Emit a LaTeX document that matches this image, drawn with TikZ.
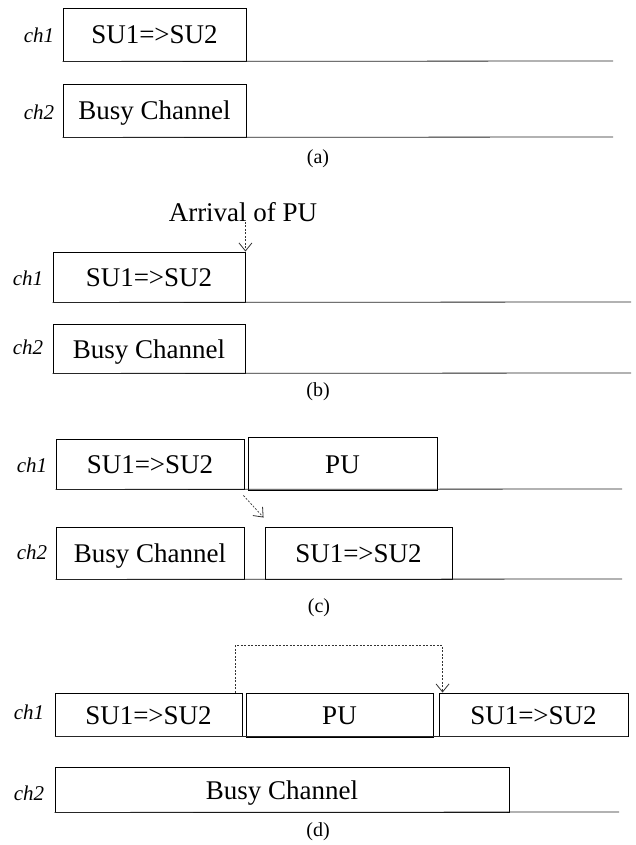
\documentclass[tikz,border=0pt]{standalone}
\usepackage{fontspec}
\setmainfont{Liberation Serif}
\usetikzlibrary{arrows.meta}

\begin{document}
\begin{tikzpicture}[
  x=1pt,
  y=-1pt,
  line cap=butt,
  line join=miter,
  slot/.style={draw=black, line width=0.9, inner sep=0, text height=19pt, text depth=0pt,
    font=\fontsize{27}{30}\selectfont},
  chan/.style={font=\itshape\fontsize{21}{24}\selectfont, inner sep=0},
  caption/.style={font=\fontsize{20}{22}\selectfont, inner sep=0},
  baseline/.style={draw=black!85, line width=0.8},
  dasharrow/.style={draw=black!80, line width=0.7, dash pattern=on 2pt off 1.5pt,
    -{Straight Barb[length=8pt,width=13pt,line width=0.8pt]}},
  every node/.style={inner sep=0}
]
\path[use as bounding box] (0,0) rectangle (635,845);
\fill[white] (0,0) rectangle (635,845);

% (a) initial state
\node[chan] (cha1) at (39,35) {ch1};
\node[chan] (cha2) at (39,112) {ch2};
\node[slot, minimum width=183, minimum height=53] (a1) at (154.5,34.5) {SU1=>SU2};
\node[slot, minimum width=183, minimum height=53] (a2) at (154.5,110.5) {Busy Channel};
\coordinate (ea1) at (613,61);
\coordinate (ea2) at (613,137);
\draw[baseline] (a1.south west) -- (ea1);
\draw[baseline] (a2.south west) -- (ea2);
\node[caption] (capa) at (318,159) {(a)};

% (b) primary user arrives
\node[font=\fontsize{27}{30}\selectfont] (arrival) at (243,212) {Arrival of PU};
\node[chan] (chb1) at (28,278) {ch1};
\node[chan] (chb2) at (28,347) {ch2};
\node[slot, minimum width=192, minimum height=50] (b1) at (149,277) {SU1=>SU2};
\node[slot, minimum width=192, minimum height=49] (b2) at (149,348.5) {Busy Channel};
\coordinate (eb1) at (631,302);
\coordinate (eb2) at (631,373);
\draw[baseline] (b1.south west) -- (eb1);
\draw[baseline] (b2.south west) -- (eb2);
\draw[dasharrow] (arrival.south -| b1.north east) -- (b1.north east);
\node[caption] (capb) at (318,392) {(b)};

% (c) SU hands over to ch2
\node[chan] (chc1) at (32,465) {ch1};
\node[chan] (chc2) at (32,552) {ch2};
\node[slot, minimum width=188, minimum height=50] (c1) at (150,464) {SU1=>SU2};
\node[slot, minimum width=189, minimum height=53] (c2) at (342.5,463.5) {PU};
\node[slot, minimum width=188, minimum height=52] (c3) at (150,553) {Busy Channel};
\node[slot, minimum width=187, minimum height=52] (c4) at (358.5,553) {SU1=>SU2};
\coordinate (ec1) at (622,489);
\coordinate (ec2) at (622,579);
\draw[baseline] (c1.south west) -- (ec1);
\draw[baseline] (c3.south west) -- (ec2);
\draw[dasharrow] ([shift={(-1,6)}]c1.south east) -- ([shift={(-1,-9)}]c4.north west);
\node[caption] (capc) at (319,608) {(c)};

% (d) SU waits and resumes on ch1
\node[chan] (chd1) at (29,712) {ch1};
\node[chan] (chd2) at (29,793) {ch2};
\node[slot, minimum width=187, minimum height=43] (d1) at (148.5,714.5) {SU1=>SU2};
\node[slot, minimum width=187, minimum height=44] (d2) at (339.5,715) {PU};
\node[slot, minimum width=189, minimum height=43] (d3) at (533.5,714.5) {SU1=>SU2};
\node[slot, minimum width=454, minimum height=45] (d4) at (282,789.5) {Busy Channel};
\coordinate (ed2) at (619,812);
\draw[baseline] (d1.south west) -- (d3.south east);
\draw[baseline] (d4.south west) -- (ed2);
\draw[dasharrow] ([shift={(-7,0)}]d1.north east) -- ++(0,-47) -| ([shift={(4,0)}]d3.north west);
\node[caption] (capd) at (318,832) {(d)};

\end{tikzpicture}
\end{document}
